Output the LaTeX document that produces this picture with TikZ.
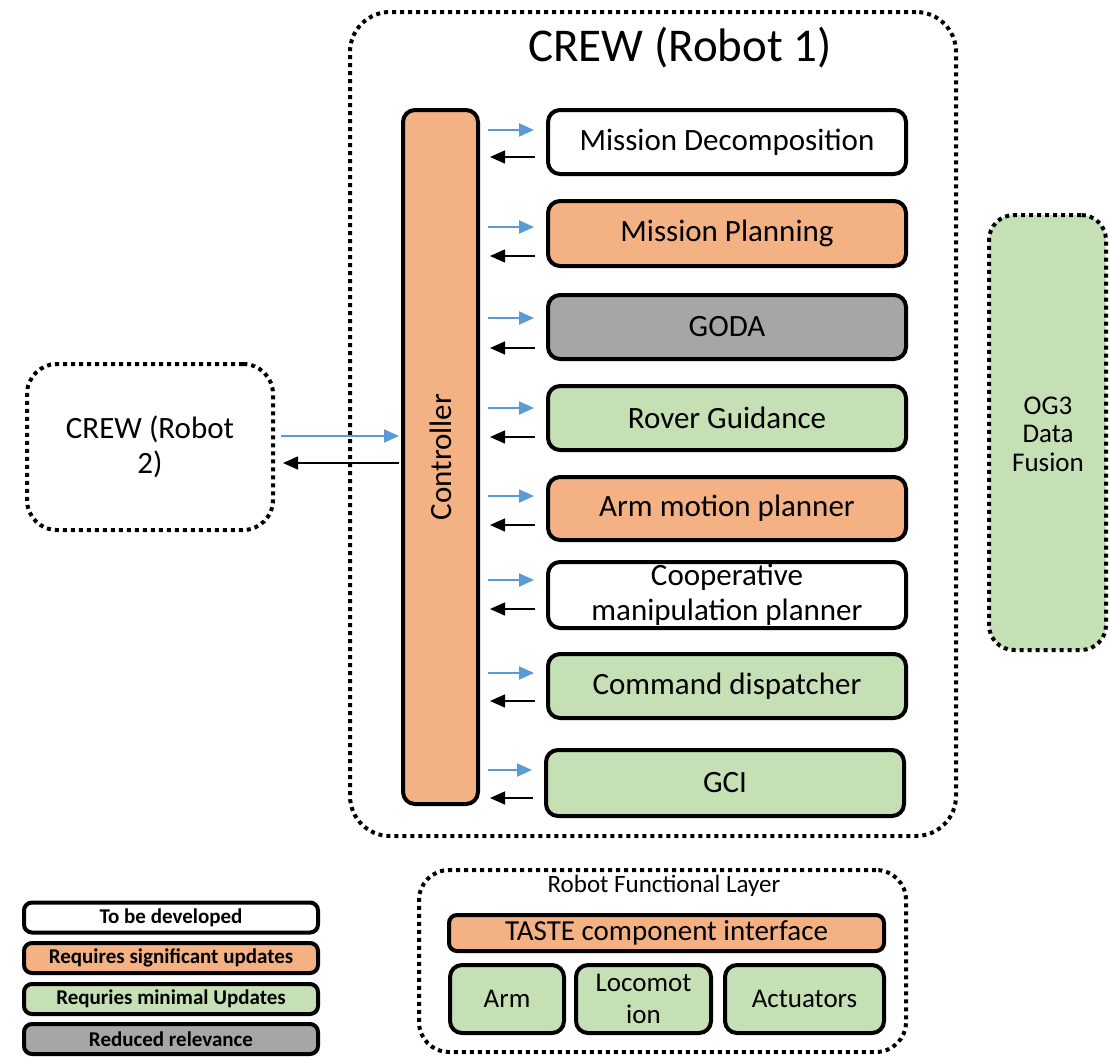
\documentclass[tikz,border=0pt]{standalone}
\usepackage{fontspec}
\setmainfont{Carlito}
\usetikzlibrary{arrows.meta,calc}
\definecolor{orng}{HTML}{F4B183}
\definecolor{grn}{HTML}{C5E0B4}
\definecolor{gry}{HTML}{A6A6A6}
\definecolor{arrblue}{HTML}{5B9BD5}
\begin{document}
\begin{tikzpicture}[x=1pt,y=-1pt,
  box/.style={draw, line width=4pt, rounded corners=12pt, minimum width=358pt, minimum height=64pt, inner sep=0pt, align=center, font=\fontsize{31}{35}\selectfont},
  dotbox/.style={draw, line width=4pt, dash pattern=on 4pt off 4pt, inner sep=0pt, align=center},
  legbox/.style={draw, line width=4pt, rounded corners=8pt, minimum width=294pt, minimum height=30pt, inner sep=0pt, font=\fontsize{21}{25}\selectfont\bfseries},
  blu/.style={draw=arrblue, line width=2pt, -{Triangle[length=15pt,width=13pt]}, shorten <=8pt, shorten >=12pt},
  blk/.style={draw=black, line width=1.5pt, -{Triangle[length=15pt,width=13pt]}, shorten <=11pt, shorten >=10pt}
]
\useasboundingbox (0,0) rectangle (1110,1058);
\fill[white] (0,0) rectangle (1110,1058);

% outer CREW Robot 1
\node[dotbox, rounded corners=40pt, minimum width=606pt, minimum height=824pt] (outer) at (653,424) {};
\node[font=\fontsize{47}{55}\selectfont] (title) at (680,48) {CREW (Robot 1)};

% controller
\node[box, fill=orng, minimum width=75pt, minimum height=694pt] (ctrl) at (440.5,457) {};
\node[rotate=90, font=\fontsize{31}{35}\selectfont] (ctrltxt) at (ctrl.center) {Controller};

% modules
\node[box, fill=white] (b1) at (727,142) {Mission Decomposition};
\node[box, fill=orng, minimum height=65pt] (b2) at (727,233.5) {Mission Planning};
\node[box, fill=gry] (b3) at (727,327) {GODA};
\node[box, fill=grn] (b4) at (727,418) {Rover Guidance};
\node[box, fill=orng, minimum height=63pt] (b5) at (727,508.5) {Arm motion planner};
\node[box, fill=white, minimum height=66pt] (b6) at (727,595) {Cooperative\\manipulation planner};
\node[box, fill=grn] (b7) at (727,686) {Command dispatcher};
\node[box, fill=grn, minimum height=66pt] (b8) at (725,783) {GCI};

\foreach \b/\yb/\yk in {b1/130/157, b2/227/256, b3/318/348, b4/408/437, b5/496/525, b6/580/609, b7/673/701, b8/770/798}{
  \draw[blu] (ctrl.east |- 0,\yb) -- (\b.west |- 0,\yb);
  \draw[blk] (\b.west |- 0,\yk) -- (ctrl.east |- 0,\yk);
}

% CREW Robot 2
\node[dotbox, rounded corners=30pt, minimum width=246pt, minimum height=166pt, font=\fontsize{31}{35}\selectfont] (r2) at (150,447) {CREW (Robot\\2)};
\draw[blu, shorten <=6pt, shorten >=2pt] (r2.east |- 0,436) -- (ctrl.west |- 0,436);
\draw[blk, shorten <=2pt, shorten >=8pt] (ctrl.west |- 0,463) -- (r2.east |- 0,463);

% OG3
\node[dotbox, fill=grn, rounded corners=25pt, minimum width=117pt, minimum height=435pt] (og3) at (1047.5,432.5) {};
\node[align=center, font=\fontsize{27}{28.5}\selectfont] (og3txt) at (1048,434) {OG3\\Data\\Fusion};

% legend
\node[legbox, fill=white] (l1) at (171,917.5) {To be developed};
\node[legbox, fill=orng] (l2) at (171,958) {Requires significant updates};
\node[legbox, fill=grn] (l3) at (171,999) {Requries minimal Updates};
\node[legbox, fill=gry] (l4) at (171,1039) {Reduced relevance};

% functional layer
\node[dotbox, rounded corners=30pt, minimum width=487pt, minimum height=182pt] (rfl) at (662.5,961) {};
\node[font=\fontsize{25}{29}\selectfont] (rfltxt) at (664,886) {Robot Functional Layer};
\node[box, fill=orng, rounded corners=8pt, minimum width=435pt, minimum height=36pt, font=\fontsize{29}{33}\selectfont] (taste) at (666.5,933) {TASTE component interface};
\node[box, fill=grn, minimum width=114pt, minimum height=68pt, font=\fontsize{27}{32}\selectfont] (arm) at (507,999) {Arm};
\node[box, fill=grn, minimum width=135pt, minimum height=68pt, font=\fontsize{27}{32}\selectfont] (loco) at (643.5,999) {Locomot\\ion};
\node[box, fill=grn, minimum width=159pt, minimum height=68pt, font=\fontsize{27}{32}\selectfont] (act) at (804.5,999) {Actuators};
\end{tikzpicture}
\end{document}
